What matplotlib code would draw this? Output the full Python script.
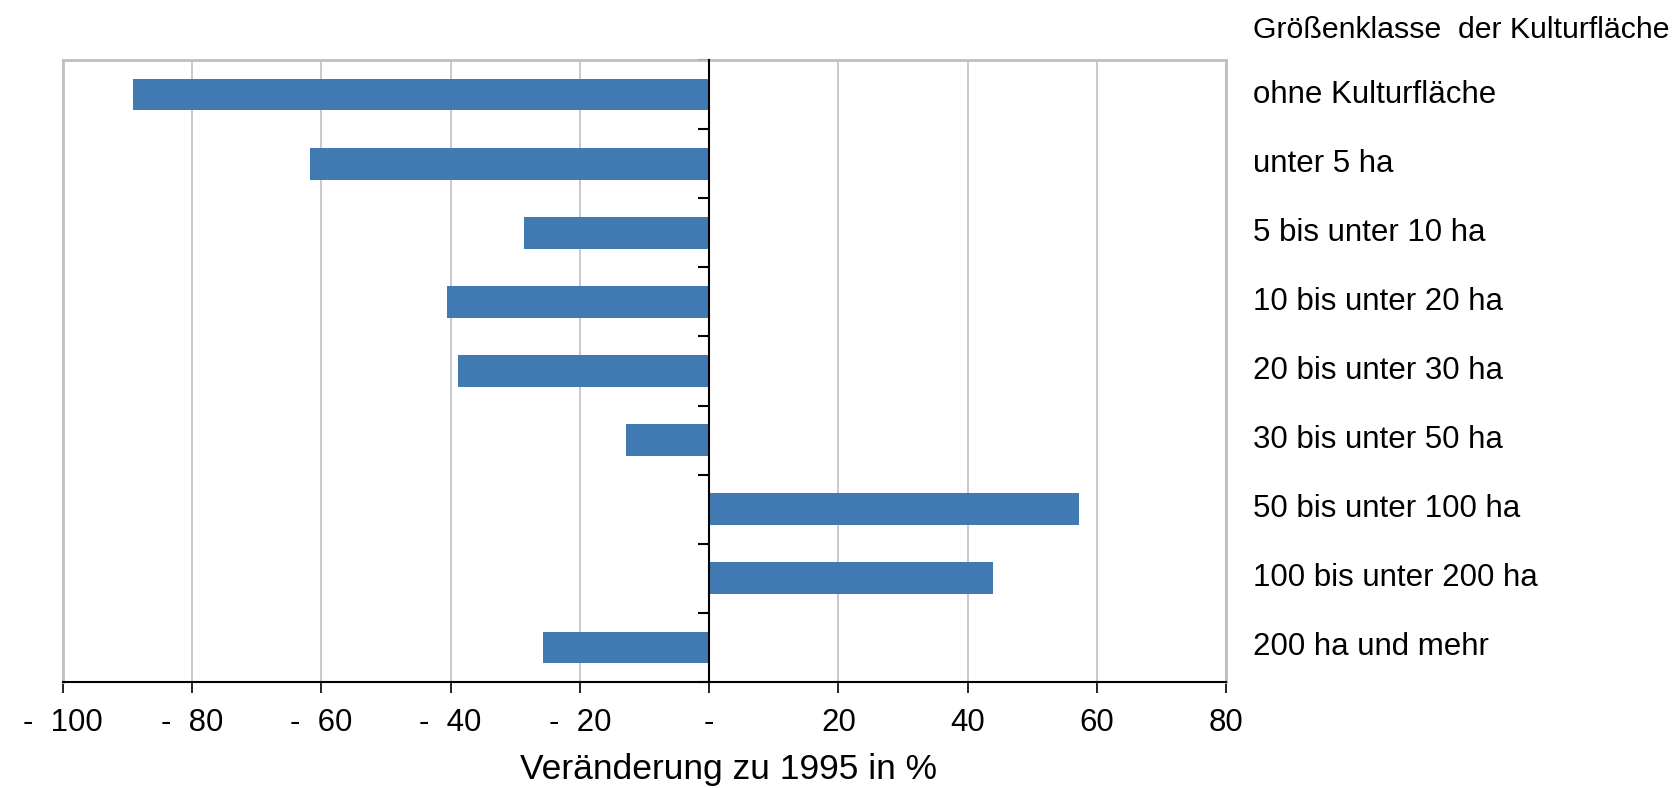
import matplotlib
matplotlib.use("Agg")
import matplotlib.pyplot as plt
import matplotlib.transforms as mtransforms
import numpy as np

plt.rcParams["font.family"] = ["Liberation Sans", "DejaVu Sans"]

# Größenklassen der Kulturfläche (top to bottom)
categories = [
    "ohne Kulturfläche",
    "unter 5 ha",
    "5 bis unter 10 ha",
    "10 bis unter 20 ha",
    "20 bis unter 30 ha",
    "30 bis unter 50 ha",
    "50 bis unter 100 ha",
    "100 bis unter 200 ha",
    "200 ha und mehr",
]
# Veränderung zu 1995 in %
change = [-89.1, -61.7, -28.6, -40.6, -38.8, -12.9, 57.2, 44.0, -25.7]
x_ticks = [-100, -80, -60, -40, -20, 0, 20, 40, 60, 80]


def fmt(v):
    if v < 0:
        return f"-  {abs(v)}"
    if v == 0:
        return "-"
    return str(v)


fig = plt.figure(figsize=(16.76, 7.88), dpi=100)
ax = fig.add_axes([63 / 1676, 1 - 682 / 788, (1226 - 63) / 1676, (682 - 60) / 788])

y = np.arange(len(categories))
ax.barh(y, change, height=0.46, color="#417AB3", zorder=3)

ax.set_xlim(-100, 80)
ax.set_ylim(len(categories) - 0.5, -0.5)

# grid and frame
ax.set_xticks(x_ticks)
ax.set_xticklabels([fmt(v) for v in x_ticks], fontsize=22.5)
ax.grid(axis="x", color="#C0C0C0", linewidth=1.2, zorder=0)
ax.set_axisbelow(True)
for s in ["top", "right"]:
    ax.spines[s].set_color("#BFBFBF")
    ax.spines[s].set_linewidth(2)
ax.axvline(-100, color="#BFBFBF", linewidth=2, zorder=1, clip_on=False)
ax.spines["bottom"].set_color("black")
ax.spines["bottom"].set_linewidth(1.5)
ax.tick_params(axis="x", direction="out", length=8, width=1.2, pad=11)

# zero line acts as y axis
ax.spines["left"].set_position(("data", 0))
ax.spines["left"].set_color("black")
ax.spines["left"].set_linewidth(1.5)
ax.spines["left"].set_zorder(4)
ax.set_yticks(np.arange(-0.5, len(categories), 1.0))
ax.set_yticklabels([])
ax.tick_params(axis="y", direction="out", length=8, width=1.5)

# category labels right of the plot
trans = mtransforms.blended_transform_factory(fig.transFigure, ax.transData)
for yi, lab in zip(y, categories):
    ax.text(1253 / 1676, yi, lab, transform=trans, fontsize=22.5,
            ha="left", va="center")
fig.text(1253 / 1676, 1 - 30 / 788, "Größenklasse  der Kulturfläche",
         fontsize=21.8, ha="left", va="center")

fig.text(728 / 1676, 1 - 770 / 788, "Veränderung zu 1995 in %",
         fontsize=25.5, ha="center", va="center")

fig.savefig("out.png", dpi=100)
